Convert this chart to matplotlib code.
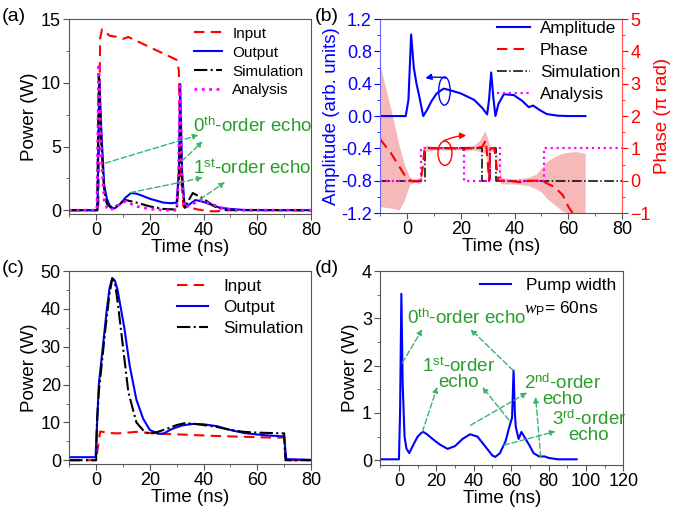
import numpy as np
import matplotlib
matplotlib.use("Agg")
import matplotlib.pyplot as plt
from matplotlib.patches import Ellipse
from matplotlib.lines import Line2D
from matplotlib.ticker import MultipleLocator, FormatStrFormatter

plt.rcParams['font.family'] = ['Liberation Sans', 'DejaVu Sans']
plt.rcParams['mathtext.fontset'] = 'custom'
plt.rcParams['mathtext.rm'] = 'Liberation Sans'
plt.rcParams['mathtext.it'] = 'Liberation Serif:italic'
plt.rcParams['font.size'] = 13.5
plt.rcParams['xtick.labelsize'] = 13
plt.rcParams['ytick.labelsize'] = 13

GREEN = '#2a9d2a'
ARROW_GREEN = '#3cb371'
LW = 1.5

# ---------------- panel (a) data ----------------
a_in_t = [-10, 0.8, 1.5, 2.2, 5, 8, 10, 12, 15, 20, 25, 30, 30.8, 31.5, 32.5, 35, 38, 42, 45, 50, 80]
a_in_p = [0, 0, 13.5, 14.2, 13.7, 13.6, 13.45, 13.6, 13.3, 12.8, 12.3, 11.8, 11.0, 3.0, 0.3, 0.2, 0.05, -0.08, -0.08, 0, 0]

a_out_t = [-10, 0.5, 1.2, 2, 3, 4, 5, 6, 7, 9, 11, 13, 15, 17, 20, 25, 28, 30, 30.8, 31.3, 32, 33, 35, 37, 40, 42, 46, 50, 55, 80]
a_out_p = [0, 0, 10.3, 6.0, 2.0, 0.9, 0.4, 0.2, 0.15, 0.5, 1.0, 1.35, 1.3, 1.15, 0.9, 0.6, 0.55, 0.6, 3.0, 9.9, 3.0, 0.2, 0.5, 0.8, 0.65, 0.5, 0.2, 0.1, 0.02, 0]

a_sim_t = [-10, 0.4, 1.0, 2, 3, 4, 6, 8, 11, 15, 20, 25, 30, 30.8, 31.3, 32, 33, 34.5, 36, 40, 44, 48, 80]
a_sim_p = [0, 0, 10.6, 5.0, 1.5, 0.5, 0.1, 0.4, 0.8, 0.6, 0.3, 0.1, 0.05, 2.5, 7.0, 2.0, 0.2, 0.8, 1.35, 0.9, 0.3, 0.02, 0]

a_ana_t = [-10, 0.3, 1.0, 2, 3, 4, 5, 7, 9, 11, 15, 20, 25, 30, 30.7, 31.2, 32, 33, 36, 39, 44, 48, 52, 80]
a_ana_p = [0, 0, 11.5, 4.0, 0.8, 0.2, 0.0, 0.2, 0.5, 0.7, 0.3, 0.1, 0.0, 0.0, 3.0, 10.0, 2.0, 0.2, 0.5, 0.8, 0.4, 0.1, 0.0, 0]

# ---------------- panel (b) data ----------------
b_amp_t = [-10, -0.5, 0.5, 1.5, 2.5, 3.5, 4.5, 6, 7.5, 9, 11, 13.6, 16, 20, 25, 28, 29.8, 30.5, 31.3, 32.2, 32.9, 34, 36, 39.7, 42.8, 45.3, 46.9, 49.6, 52, 56, 60, 66.4]
b_amp_v = [0, 0, 0.2, 1.01, 0.6, 0.4, 0.25, 0.0, 0.08, 0.18, 0.28, 0.34, 0.32, 0.28, 0.2, 0.1, 0.02, 0.2, 0.54, 0.2, 0.0, 0.15, 0.27, 0.26, 0.19, 0.11, 0.13, 0.07, 0.025, 0.005, 0.0, 0.0]

b_ph_t = [-10, -6, -3, 0, 2, 5, 5.8, 6.5, 10, 15, 20, 21, 22, 25, 28, 29.3, 30, 30.5, 31, 32.5, 33.5, 34, 38, 42, 45, 50, 55, 58, 60, 62]
b_ph_v = [1.28, 0.85, 0.45, 0.05, -0.02, -0.02, 0.4, 1.0, 1.0, 1.0, 1.0, 0.95, 1.0, 1.0, 1.05, 1.25, 0.6, 0.0, 1.0, 1.0, 0.3, 0.0, 0.0, -0.05, 0.0, 0.0, -0.2, -0.45, -0.8, -1.05]

b_band_t = [-10, -6, -3, -1, 1, 3, 5, 7, 10, 15, 20, 25, 27, 29, 30, 31, 33, 35, 40, 45, 48, 50, 52, 55, 58, 60, 63, 66.3]
b_band_up = [3.55, 2.2, 1.1, 0.5, 0.1, 0.05, 0.1, 1.1, 1.05, 1.05, 1.05, 1.1, 1.25, 1.55, 1.3, 1.05, 1.05, 0.1, 0.05, 0.1, 0.2, 0.4, 0.6, 0.75, 0.85, 0.88, 0.9, 0.85]
b_band_lo = [-0.8, -0.85, -0.9, -0.6, -0.1, -0.05, -0.1, 0.9, 0.95, 0.95, 0.95, 0.95, 0.9, 0.85, 0.5, 0.9, 0.9, -0.1, -0.1, -0.15, -0.25, -0.35, -0.55, -0.75, -0.95, -1.0, -1.0, -1.0]

b_sim_t = [-10, 6.5, 6.5, 28, 28, 31, 31, 33, 33, 80]
b_sim_v = [0, 0, 1, 1, 0, 0, 1, 1, 0, 0]

b_ana_t = [-10, 5, 5, 21, 21, 31, 31, 34.5, 34.5, 51, 51, 80]
b_ana_v = [0, 0, 1, 1, 0, 0, 1, 1, 0, 0, 1, 1]

# ---------------- panel (c) data ----------------
c_in_t = [-10, 0, 1.5, 5, 8, 15, 20, 25, 35, 45, 55, 65, 70, 70.5, 80]
c_in_p = [0, 0, 7.6, 7.2, 7.1, 7.5, 7.2, 7.0, 6.7, 6.4, 6.2, 6.0, 6.0, 0, 0]

c_out_t = [-10, -0.2, 0.5, 1, 2.5, 4, 5, 6, 7, 8, 10.5, 12.5, 15, 17.5, 20, 23, 25, 28, 32, 36, 40, 45, 50, 55, 60, 65, 70, 70.8, 80]
c_out_p = [0.8, 0.8, 12, 20, 30, 40, 45.5, 48.2, 47.5, 45, 35, 25, 16, 11, 8, 7, 7, 8.2, 9.2, 9.6, 9.5, 9, 8, 7.2, 6.8, 6.5, 6.3, 0.3, 0.1]

c_sim_t = [-10, 0, 0.3, 1, 3.5, 5, 6, 7, 8, 10, 12, 15, 18, 20, 23, 27, 30, 33, 37, 40, 45, 50, 55, 60, 65, 70, 70.5, 80]
c_sim_p = [0, 0, 10, 18, 35, 44, 48, 47, 42, 30, 18, 10, 7.5, 7.0, 7.5, 8.5, 9.3, 9.8, 9.6, 9.3, 8.8, 8.0, 7.5, 7.3, 7.2, 7.1, 0, 0]

# ---------------- panel (d) data ----------------
d_t = [-10, 0, 0.6, 1.3, 2, 3, 4, 5.5, 8, 10, 12, 13, 15, 18, 22, 26, 30, 34, 38, 42, 46, 50, 51.5, 54, 57, 59, 60.5, 61.3, 62, 62.5, 64, 65.5, 67, 70, 72, 75, 78, 80, 85, 95]
d_p = [0.02, 0.02, 1.0, 3.52, 1.6, 0.5, 0.25, 0.15, 0.35, 0.5, 0.58, 0.6, 0.55, 0.45, 0.33, 0.24, 0.3, 0.45, 0.55, 0.5, 0.3, 0.1, 0.07, 0.15, 0.4, 0.7, 0.9, 1.9, 1.0, 0.7, 0.45, 0.6, 0.5, 0.3, 0.15, 0.08, 0.08, 0.05, 0.02, 0.02]


def style_axes(ax, spine_col='#555555'):
    for s in ax.spines.values():
        s.set_color(spine_col)
        s.set_linewidth(0.8)
    ax.tick_params(which='both', direction='out', top=False, right=False, color='#555555')
    ax.tick_params(which='major', length=4, pad=2)
    ax.tick_params(which='minor', length=2)


def green_arrow(ax, tail, head):
    ax.annotate('', xy=head, xytext=tail,
                arrowprops=dict(arrowstyle='-|>', color=ARROW_GREEN, lw=1.0,
                                linestyle=(0, (4, 2)), mutation_scale=8,
                                shrinkA=0, shrinkB=0))


fig = plt.figure(figsize=(6.79, 5.17), dpi=100)

# ---- (a)
ax = fig.add_axes([0.102, 0.586, 0.356, 0.377])
ax.plot(a_in_t, a_in_p, '--', color='red', lw=LW, dashes=(5, 3), label='Input')
ax.plot(a_out_t, a_out_p, '-', color='blue', lw=LW, label='Output')
ax.plot(a_sim_t, a_sim_p, '-.', color='black', lw=LW, label='Simulation')
ax.plot(a_ana_t, a_ana_p, ':', color='magenta', lw=2.0, label='Analysis')
ax.set_xlim(-10, 80)
ax.set_ylim(-0.3, 15)
ax.xaxis.set_major_locator(MultipleLocator(20))
ax.xaxis.set_minor_locator(MultipleLocator(10))
ax.yaxis.set_major_locator(MultipleLocator(5))
ax.yaxis.set_minor_locator(MultipleLocator(2.5))
ax.set_xlabel('Time (ns)', labelpad=0)
ax.set_ylabel('Power (W)', labelpad=2)
style_axes(ax)
ax.legend(loc='upper right', frameon=False, fontsize=11, handlelength=1.8,
          borderaxespad=0.2, borderpad=0.3, labelspacing=0.32, handletextpad=0.7)
ax.text(36, 6.6, r'0$^{\rm th}$-order echo', color=GREEN, fontsize=13.5, va='center')
ax.text(36, 3.3, r'1$^{\rm st}$-order echo', color=GREEN, fontsize=13.5, va='center')
green_arrow(ax, (3.4, 3.7), (38.1, 5.9))
green_arrow(ax, (31.9, 3.85), (39.7, 5.4))
green_arrow(ax, (12.7, 1.38), (39.7, 2.55))
green_arrow(ax, (38.7, 0.86), (48, 2.2))
fig.text(0.003, 0.968, '(a)', fontsize=14, va='center')

# ---- (b)
ax = fig.add_axes([0.560, 0.588, 0.356, 0.375])
ax2 = ax.twinx()
ax2.fill_between(b_band_t, b_band_lo, b_band_up, color='#f4a0a0', alpha=0.75, lw=0)
ax2.plot(b_sim_t, b_sim_v, '-.', color='black', lw=1.1)
ax2.plot(b_ana_t, b_ana_v, ':', color='magenta', lw=1.6)
ax2.plot(b_ph_t, b_ph_v, '--', color='red', lw=LW, dashes=(5, 3))
ax2.set_ylim(-1, 5)
ax2.yaxis.set_major_locator(MultipleLocator(1))
ax2.yaxis.set_minor_locator(MultipleLocator(0.5))
ax2.set_ylabel('Phase (\u03c0 rad)', color='red', labelpad=2)
ax2.tick_params(axis='y', which='both', colors='red', direction='out', pad=2)
ax2.tick_params(axis='y', which='major', length=4)
ax2.tick_params(axis='y', which='minor', length=2)
ax.set_zorder(ax2.get_zorder() + 1)
ax.patch.set_visible(False)
ax.plot(b_amp_t, b_amp_v, '-', color='blue', lw=LW)
ax.set_xlim(-10, 80)
ax.set_ylim(-1.2, 1.2)
ax.xaxis.set_major_locator(MultipleLocator(20))
ax.xaxis.set_minor_locator(MultipleLocator(10))
ax.yaxis.set_major_locator(MultipleLocator(0.4))
ax.yaxis.set_minor_locator(MultipleLocator(0.2))
ax.yaxis.set_major_formatter(FormatStrFormatter('%.1f'))
ax.set_xlabel('Time (ns)', labelpad=0)
ax.set_ylabel('Amplitude (arb. units)', color='blue', labelpad=1)
style_axes(ax)
ax.tick_params(axis='y', which='both', colors='blue')
ax.spines['left'].set_color('#6a6aff')
ax.spines['right'].set_visible(False)
ax2.spines['left'].set_visible(False)
ax2.spines['right'].set_color('#ff5050')
ax2.spines['top'].set_color('#333333')
ax2.spines['bottom'].set_visible(False)
handles = [Line2D([], [], color='blue', ls='-', lw=LW),
           Line2D([], [], color='red', ls='--', lw=LW, dashes=(5, 3)),
           Line2D([], [], color='black', ls='-.', lw=1.1),
           Line2D([], [], color='magenta', ls=':', lw=1.6)]
ax.legend(handles, ['Amplitude', 'Phase', 'Simulation', 'Analysis'], loc='upper right',
          bbox_to_anchor=(1.0, 1.0), frameon=False, fontsize=12.3, handlelength=1.9,
          borderaxespad=0.0, borderpad=0.1, labelspacing=0.42, handletextpad=0.6)
ax.add_patch(Ellipse((13.9, 0.31), 4.3, 0.35, fill=False, ec='blue', lw=1.0))
ax.annotate('', xy=(6.8, 0.47), xytext=(14.5, 0.47),
            arrowprops=dict(arrowstyle='-|>', color='blue', lw=1.0, mutation_scale=9,
                            shrinkA=0, shrinkB=0, connectionstyle='arc3,rad=0.1'))
ax.add_patch(Ellipse((14.1, -0.46), 5.2, 0.3, fill=False, ec='red', lw=1.0))
ax.annotate('', xy=(22, -0.24), xytext=(13.5, -0.31),
            arrowprops=dict(arrowstyle='-|>', color='red', lw=1.0, mutation_scale=9,
                            shrinkA=0, shrinkB=0, connectionstyle='arc3,rad=-0.1'))
fig.text(0.463, 0.968, '(b)', fontsize=14, va='center')

# ---- (c)
ax = fig.add_axes([0.102, 0.1025, 0.356, 0.373])
ax.plot(c_in_t, c_in_p, '--', color='red', lw=LW, dashes=(5, 3), label='Input')
ax.plot(c_out_t, c_out_p, '-', color='blue', lw=LW, label='Output')
ax.plot(c_sim_t, c_sim_p, '-.', color='black', lw=LW, label='Simulation')
ax.set_xlim(-10, 80)
ax.set_ylim(-1, 50)
ax.xaxis.set_major_locator(MultipleLocator(20))
ax.xaxis.set_minor_locator(MultipleLocator(10))
ax.yaxis.set_major_locator(MultipleLocator(10))
ax.yaxis.set_minor_locator(MultipleLocator(5))
ax.set_xlabel('Time (ns)', labelpad=0)
ax.set_ylabel('Power (W)', labelpad=2)
style_axes(ax)
ax.legend(loc='upper right', frameon=False, fontsize=12.3, handlelength=1.8,
          borderaxespad=0.1, borderpad=0.35, labelspacing=0.35, handletextpad=0.9)
fig.text(0.003, 0.48, '(c)', fontsize=14, va='center')

# ---- (d)
ax = fig.add_axes([0.560, 0.1006, 0.358, 0.375])
ax.plot(d_t, d_p, '-', color='blue', lw=LW, label='Pump width')
ax.set_xlim(-10, 120)
ax.set_ylim(-0.1, 4)
ax.xaxis.set_major_locator(MultipleLocator(20))
ax.xaxis.set_minor_locator(MultipleLocator(10))
ax.yaxis.set_major_locator(MultipleLocator(1))
ax.yaxis.set_minor_locator(MultipleLocator(0.5))
ax.set_xlabel('Time (ns)', labelpad=0)
ax.set_ylabel('Power (W)', labelpad=2)
style_axes(ax)
ax.legend(loc='upper right', frameon=False, fontsize=12.4, handlelength=1.8,
          borderaxespad=0.1, borderpad=0.3, handletextpad=0.9)
ax.text(67, 3.2, r'$w_{\rm P}$= 60ns', fontsize=12.5, va='center')
ax.text(4.5, 3.0, r'0$^{\rm th}$-order echo', color=GREEN, fontsize=13.5, va='center')
ax.text(32, 1.82, '1$^{\\rm st}$-order\necho', color=GREEN, fontsize=13.5, va='center',
        ha='center', linespacing=0.85)
ax.text(87.3, 1.47, '2$^{\\rm nd}$-order\necho', color=GREEN, fontsize=13.5, va='center',
        ha='center', linespacing=0.85)
ax.text(101.6, 0.7, '3$^{\\rm rd}$-order\necho', color=GREEN, fontsize=13.5, va='center',
        ha='center', linespacing=0.85)
green_arrow(ax, (1.8, 2.06), (12.5, 2.77))
green_arrow(ax, (61.1, 1.9), (38.3, 2.77))
green_arrow(ax, (12.5, 0.6), (20.5, 1.55))
green_arrow(ax, (58.8, 0.85), (44.6, 1.55))
green_arrow(ax, (38.3, 0.74), (68.6, 1.43))
green_arrow(ax, (75.8, 0.07), (73.1, 1.34))
green_arrow(ax, (56.1, 0.32), (83.8, 0.61))
fig.text(0.463, 0.48, '(d)', fontsize=14, va='center')

fig.savefig('out.png', dpi=100)
